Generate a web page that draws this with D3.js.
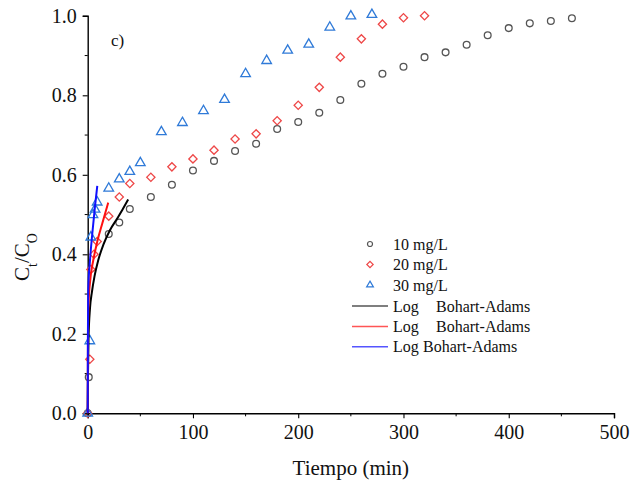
<!DOCTYPE html>
<html>
<head>
<meta charset="utf-8">
<script src="https://cdn.jsdelivr.net/npm/d3@7"></script>
<style>
    body { margin: 0; background: #fff; }
    text { font-family: "Liberation Serif", "Times New Roman", serif; fill: #111; }
</style>
</head>
<body>
<svg id="chart" width="632" height="484"></svg>
<script>
// measured points, [time (min), Ct/Co]
const series10 = [[0, 0], [1, 0.091], [20, 0.451], [30, 0.48], [40, 0.514], [60, 0.544], [80, 0.575],
    [100, 0.611], [120, 0.635], [140, 0.66], [160, 0.678], [180, 0.715], [200, 0.733], [220, 0.756],
    [240, 0.788], [260, 0.829], [280, 0.854], [300, 0.872], [320, 0.896], [340, 0.908], [360, 0.927],
    [380, 0.951], [400, 0.969], [420, 0.981], [440, 0.987], [460, 0.994]];
const series20 = [[0, 0], [2, 0.136], [3, 0.362], [6, 0.40], [9, 0.432], [20, 0.496], [30, 0.544],
    [40, 0.578], [60, 0.594], [80, 0.62], [100, 0.64], [120, 0.662], [140, 0.69], [160, 0.703],
    [180, 0.736], [200, 0.775], [220, 0.82], [240, 0.896], [260, 0.942], [280, 0.979], [300, 0.995],
    [320, 1.0]];
const series30 = [[0, 0], [2, 0.182], [3, 0.443], [5, 0.499], [7, 0.513], [9, 0.531], [20, 0.566],
    [30, 0.589], [40, 0.608], [50, 0.63], [70, 0.708], [90, 0.731], [110, 0.761], [130, 0.789],
    [150, 0.854], [170, 0.887], [190, 0.913], [210, 0.928], [230, 0.971], [250, 0.999], [270, 1.003]];

// Log Bohart-Adams fit curves
const fit10 = [[0, 0], [0.3, 0.1], [0.8, 0.19], [2.2, 0.265], [4, 0.305], [6.5, 0.345], [10, 0.385],
    [15, 0.425], [21, 0.46], [28, 0.49], [33, 0.512], [38.5, 0.538]];
const fit20 = [[0, 0], [0.1, 0.1], [0.3, 0.2], [0.7, 0.27], [2.2, 0.33], [5.3, 0.385], [9.1, 0.432],
    [13.9, 0.478], [19.5, 0.53]];
const fit30 = [[0, 0], [0.1, 0.1], [0.2, 0.2], [0.5, 0.31], [2.2, 0.386], [4.4, 0.453], [6.9, 0.52],
    [9.1, 0.572]];

const xTicks = [0, 100, 200, 300, 400, 500];
const yTicks = [0, 0.2, 0.4, 0.6, 0.8, 1.0];
const xMinor = [50, 150, 250, 350, 450];
const yMinor = [0.1, 0.3, 0.5, 0.7, 0.9];

const legendLabels = ["10 mg/L", "20 mg/L", "30 mg/L"];
const fitLabels = [["Log", "Bohart-Adams", 43], ["Log", "Bohart-Adams", 43], ["Log", "Bohart-Adams", 30]];

const svg = d3.select("#chart");

const x = d3.scaleLinear().domain([0, 500]).range([87.7, 614]);
const y = d3.scaleLinear().domain([0, 1]).range([413.3, 15.8]);

const markerColors = ["#555555", "#ee4848", "#2f7ad8"];
const lineColors = ["#000000", "#ff1010", "#1010ff"];
const legendLineColors = ["#555555", "#ff5555", "#5555ff"];

// diamond is a square turned by 45 degrees
const symbols = [d3.symbolCircle, d3.symbolSquare, d3.symbolTriangle];
const symbolSizes = [36, 34, 40];
const symbolRotate = [0, 45, 0];

// axes
const xAxis = d3.axisBottom(x).tickValues(xTicks).tickSize(5).tickPadding(7).tickFormat(d3.format("d"));
const yAxis = d3.axisLeft(y).tickValues(yTicks).tickSize(5).tickPadding(6).tickFormat(d3.format(".1f"));

const gx = svg.append("g")
    .attr("transform", "translate(0," + y(0) + ")")
    .call(xAxis);
gx.selectAll("line.minor")
    .data(xMinor)
    .enter().append("line")
    .attr("class", "minor")
    .attr("x1", d => x(d))
    .attr("x2", d => x(d))
    .attr("y1", 0)
    .attr("y2", 3)
    .attr("stroke", "#000");

const gy = svg.append("g")
    .attr("transform", "translate(" + x(0) + ",0)")
    .call(yAxis);
gy.selectAll("line.minor")
    .data(yMinor)
    .enter().append("line")
    .attr("class", "minor")
    .attr("y1", d => y(d))
    .attr("y2", d => y(d))
    .attr("x1", 0)
    .attr("x2", -3)
    .attr("stroke", "#000");

svg.selectAll(".domain").attr("stroke-width", 1.4).attr("stroke", "#000");
svg.selectAll(".tick line").attr("stroke-width", 1.1);
svg.selectAll(".tick text")
    .style("font-family", "'Liberation Serif', serif")
    .style("font-size", "20px")
    .attr("fill", "#111");

// axis titles
svg.append("text")
    .attr("x", x(250))
    .attr("y", 475)
    .attr("text-anchor", "middle")
    .style("font-size", "21px")
    .text("Tiempo (min)");

const ylab = svg.append("text")
    .attr("transform", "translate(29,257) rotate(-90)")
    .attr("text-anchor", "middle")
    .style("font-size", "21px");
ylab.append("tspan").text("C");
ylab.append("tspan").attr("baseline-shift", "sub").style("font-size", "14px").text("t");
ylab.append("tspan").text("/C");
ylab.append("tspan").attr("baseline-shift", "sub").style("font-size", "14px").text("O");

svg.append("text")
    .attr("x", 111)
    .attr("y", 46)
    .style("font-size", "17px")
    .text("c)");

// markers
const allSeries = [series10, series20, series30];
allSeries.forEach(function(data, i) {
    svg.append("g")
        .selectAll("path")
        .data(data)
        .enter().append("path")
        .attr("d", d3.symbol().type(symbols[i]).size(symbolSizes[i]))
        .attr("transform", d => "translate(" + x(d[0]) + "," + y(d[1]) + ") rotate(" + symbolRotate[i] + ")")
        .attr("fill", "none")
        .attr("stroke", markerColors[i])
        .attr("stroke-width", 1.3);
});

// fit lines
const line = d3.line()
    .x(d => x(d[0]))
    .y(d => y(d[1]))
    .curve(d3.curveMonotoneX);

[fit10, fit20, fit30].forEach(function(data, i) {
    svg.append("path")
        .datum(data)
        .attr("d", line)
        .attr("fill", "none")
        .attr("stroke", lineColors[i])
        .attr("stroke-width", 2);
});

// legend
const legend = svg.append("g");
legendLabels.forEach(function(label, i) {
    const ly = 244 + i * 20.5;
    legend.append("path")
        .attr("d", d3.symbol().type(symbols[i]).size(20))
        .attr("transform", "translate(370," + ly + ") rotate(" + symbolRotate[i] + ")")
        .attr("fill", "none")
        .attr("stroke", markerColors[i])
        .attr("stroke-width", 1.2);
    legend.append("text")
        .attr("x", 393)
        .attr("y", ly + 5.5)
        .style("font-size", "16px")
        .text(label);
});
fitLabels.forEach(function(label, i) {
    const ly = 306 + i * 20.4;
    legend.append("line")
        .attr("x1", 352)
        .attr("x2", 388)
        .attr("y1", ly)
        .attr("y2", ly)
        .attr("stroke", legendLineColors[i])
        .attr("stroke-width", 1.5);
    legend.append("text")
        .attr("x", 393)
        .attr("y", ly + 5.5)
        .style("font-size", "16px")
        .text(label[0]);
    legend.append("text")
        .attr("x", 393 + label[2])
        .attr("y", ly + 5.5)
        .style("font-size", "16px")
        .text(label[1]);
});
</script>
</body>
</html>
